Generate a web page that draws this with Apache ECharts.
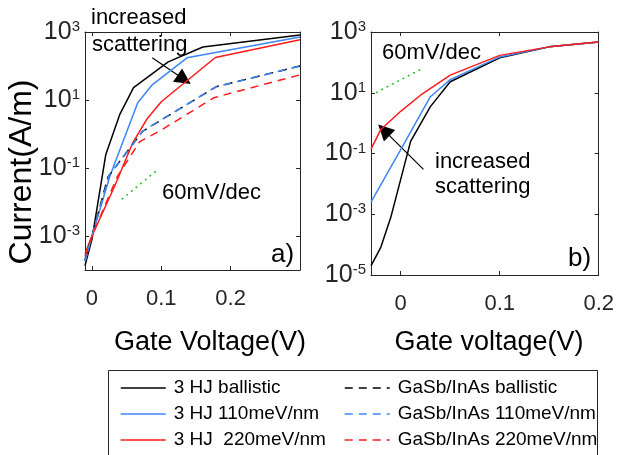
<!DOCTYPE html>
<html>
<head>
<meta charset="utf-8">
<script src="https://cdn.jsdelivr.net/npm/echarts@6/dist/echarts.min.js"></script>
<style>
  html, body { margin: 0; padding: 0; background: #fff; }
  #chart { width: 617px; height: 455px; }
</style>
</head>
<body>
<div id="chart"></div>
<script>
// panel a) : 3 HJ vs GaSb/InAs
const aBallisticX = [-0.01, 0, 0.02, 0.04, 0.06, 0.11, 0.16, 0.3];
const aBallisticY = [1.35e-4, 8e-4, 0.25, 3.7, 23, 132, 363, 813];
const a110X = [-0.01, 0, 0.026, 0.066, 0.087, 0.137, 0.3];
const a110Y = [1.8e-4, 1e-3, 0.058, 8.3, 28, 174, 708];
const a220X = [-0.01, 0, 0.033, 0.059, 0.079, 0.1, 0.178, 0.3];
const a220Y = [3e-4, 1e-3, 0.03, 0.56, 2.7, 8.9, 178, 589];
const aGsBallisticX = [-0.01, 0, 0.023, 0.073, 0.179, 0.3];
const aGsBallisticY = [2e-4, 1e-3, 0.054, 1.2, 24.5, 100];
const aGs110X = [-0.01, 0, 0.025, 0.073, 0.179, 0.3];
const aGs110Y = [1.8e-4, 1e-3, 0.063, 1.2, 24.5, 100];
const aGs220X = [-0.01, 0, 0.037, 0.069, 0.097, 0.176, 0.3];
const aGs220Y = [2.5e-4, 1e-3, 0.058, 0.6, 1.2, 11.7, 55];
const aSlopeX = [0.043, 0.093];
const aSlopeY = [0.012, 0.083];
const aArrow = [[0.087, 174], [0.133, 40]];

// panel b) : 3 HJ only
const bBallisticX = [-0.03, -0.02, -0.01, 0.01, 0.03, 0.05, 0.1, 0.15, 0.2];
const bBallisticY = [2e-5, 8.3e-5, 7.9e-4, 0.25, 3.5, 23, 141, 324, 468];
const b110X = [-0.03, 0, 0.03, 0.05, 0.1, 0.15, 0.2];
const b110Y = [2.5e-3, 0.135, 7.4, 27, 151, 324, 468];
const b220X = [-0.03, -0.02, 0, 0.02, 0.05, 0.1, 0.15, 0.2];
const b220Y = [0.14, 0.62, 2.45, 8.3, 38, 170, 324, 468];
const bSlopeX = [-0.025, 0.023];
const bSlopeY = [10, 66];
const bArrow = [[0.023, 0.03], [-0.017, 0.59]];

const xTicks = [0, 0.1, 0.2];
const aYTicks = [1e-3, 1e-1, 1e1, 1e3];
const bYTicks = [1e-5, 1e-3, 1e-1, 1e1, 1e3];

const solidNames = ["3 HJ ballistic", "3 HJ 110meV/nm", "3 HJ  220meV/nm"];
const dashNames = ["GaSb/InAs ballistic", "GaSb/InAs 110meV/nm", "GaSb/InAs 220meV/nm"];

const FONT = "'Liberation Sans', Arial, Helvetica, sans-serif";
const AXIS_C = "#262626";
const BLACK = "#000000";
const BLUE = "#3d86f5";
const RED = "#ff1a1a";
const GREEN = "#2bbf2b";

const zip = (xs, ys) => xs.map((x, i) => [x, ys[i]]);

const powLabel = (v) => {
  const e = Math.round(Math.log10(v));
  return "{b|10}{s|" + e + "}";
};

function xAxis(grid, min, max, top) {
  return {
    type: "value",
    gridIndex: grid,
    position: top ? "top" : "bottom",
    min: min,
    max: max,
    axisLine: { show: true, onZero: false, lineStyle: { color: AXIS_C, width: 1 } },
    axisTick: { show: true, inside: true, length: 4, customValues: xTicks, lineStyle: { color: AXIS_C } },
    axisLabel: {
      show: !top,
      customValues: xTicks,
      margin: 18,
      fontSize: 22,
      fontFamily: FONT,
      color: AXIS_C,
      formatter: (v) => (v === 0 ? "0" : v.toFixed(1)),
    },
    splitLine: { show: false },
  };
}

function yAxis(grid, min, max, ticks, right) {
  return {
    type: "log",
    logBase: 10,
    gridIndex: grid,
    position: right ? "right" : "left",
    min: min,
    max: max,
    axisLine: { show: true, onZero: false, lineStyle: { color: AXIS_C, width: 1 } },
    axisTick: { show: true, inside: true, length: 4, customValues: ticks, lineStyle: { color: AXIS_C } },
    axisLabel: {
      show: !right,
      customValues: ticks,
      margin: 5,
      formatter: powLabel,
      rich: {
        b: { fontSize: 25, fontFamily: FONT, color: AXIS_C },
        s: { fontSize: 15, fontFamily: FONT, color: AXIS_C, verticalAlign: "top" },
      },
    },
    splitLine: { show: false },
  };
}

function line(name, xs, ys, color, dashed, xi, yi) {
  return {
    name: name,
    type: "line",
    xAxisIndex: xi,
    yAxisIndex: yi,
    data: zip(xs, ys),
    symbol: "none",
    showSymbol: false,
    silent: true,
    lineStyle: { color: color, width: 1.5, type: dashed ? [8, 6] : "solid" },
    itemStyle: { color: color },
  };
}

function slope(xs, ys, xi, yi) {
  return {
    type: "line",
    xAxisIndex: xi,
    yAxisIndex: yi,
    data: zip(xs, ys),
    symbol: "none",
    silent: true,
    lineStyle: { color: GREEN, width: 1.5, type: [2, 4] },
  };
}

function arrow(coords, xi, yi) {
  return {
    type: "lines",
    coordinateSystem: "cartesian2d",
    xAxisIndex: xi,
    yAxisIndex: yi,
    symbol: ["none", "triangle"],
    symbolSize: [13, 16],
    silent: true,
    lineStyle: { color: BLACK, width: 1.2, opacity: 1, curveness: 0 },
    data: [{ coords: coords }],
  };
}

function txt(text, x, y, size, align, rot) {
  return {
    type: "text",
    x: x,
    y: y,
    rotation: rot || 0,
    z: 10,
    style: {
      text: text,
      fontSize: size,
      fontFamily: FONT,
      fill: BLACK,
      align: align || "left",
      verticalAlign: "middle",
    },
  };
}

const legendBase = {
  orient: "vertical",
  top: 378,
  padding: 0,
  itemWidth: 45,
  itemHeight: 14,
  itemGap: 6,
  z: 20,
  selectedMode: false,
  itemStyle: { opacity: 0 },
  lineStyle: { width: 1.5 },
  textStyle: { fontSize: 19, lineHeight: 20, fontFamily: FONT, color: BLACK, padding: [0, 0, 0, 3] },
};

const myChart = echarts.init(document.getElementById("chart"));

const option = {
  backgroundColor: "#fff",
  animation: false,
  grid: [
    { left: 85, top: 32, width: 215, height: 238, show: false },
    { left: 371, top: 32, width: 228, height: 243, show: false },
  ],
  xAxis: [
    xAxis(0, -0.01, 0.3, false),
    xAxis(0, -0.01, 0.3, true),
    xAxis(1, -0.03, 0.2, false),
    xAxis(1, -0.03, 0.2, true),
  ],
  yAxis: [
    yAxis(0, 1e-4, 1e3, aYTicks, false),
    yAxis(0, 1e-4, 1e3, aYTicks, true),
    yAxis(1, 1e-5, 1e3, bYTicks, false),
    yAxis(1, 1e-5, 1e3, bYTicks, true),
  ],
  legend: [
    Object.assign({}, legendBase, { data: solidNames, left: 120 }),
    Object.assign({}, legendBase, { data: dashNames, left: 344 }),
  ],
  graphic: [
    {
      type: "rect",
      z: 1,
      shape: { x: 108.5, y: 370.5, width: 489, height: 110 },
      style: { fill: "#fff", stroke: AXIS_C, lineWidth: 1 },
    },
    txt("Current(A/m)", 22, 172, 32, "center", Math.PI / 2),
    txt("Gate Voltage(V)", 210, 343, 27, "center"),
    txt("Gate voltage(V)", 489, 343, 27, "center"),
    txt("increased", 91, 18, 22),
    txt("scattering", 92, 45, 22),
    txt("60mV/dec", 162, 193, 22),
    txt("a)", 271, 255, 26),
    txt("60mV/dec", 382, 53, 22),
    txt("increased", 435, 162, 22),
    txt("scattering", 435, 187, 22),
    txt("b)", 568, 259, 26),
  ],
  series: [
    line(solidNames[0], aBallisticX, aBallisticY, BLACK, false, 0, 0),
    line(solidNames[1], a110X, a110Y, BLUE, false, 0, 0),
    line(solidNames[2], a220X, a220Y, RED, false, 0, 0),
    line(dashNames[0], aGsBallisticX, aGsBallisticY, BLACK, true, 0, 0),
    line(dashNames[1], aGs110X, aGs110Y, BLUE, true, 0, 0),
    line(dashNames[2], aGs220X, aGs220Y, RED, true, 0, 0),
    slope(aSlopeX, aSlopeY, 0, 0),
    arrow(aArrow, 0, 0),
    line(solidNames[0], bBallisticX, bBallisticY, BLACK, false, 2, 2),
    line(solidNames[1], b110X, b110Y, BLUE, false, 2, 2),
    line(solidNames[2], b220X, b220Y, RED, false, 2, 2),
    slope(bSlopeX, bSlopeY, 2, 2),
    arrow(bArrow, 2, 2),
  ],
};

myChart.setOption(option);
window.onresize = function () {
  myChart.resize();
};
</script>
</body>
</html>
